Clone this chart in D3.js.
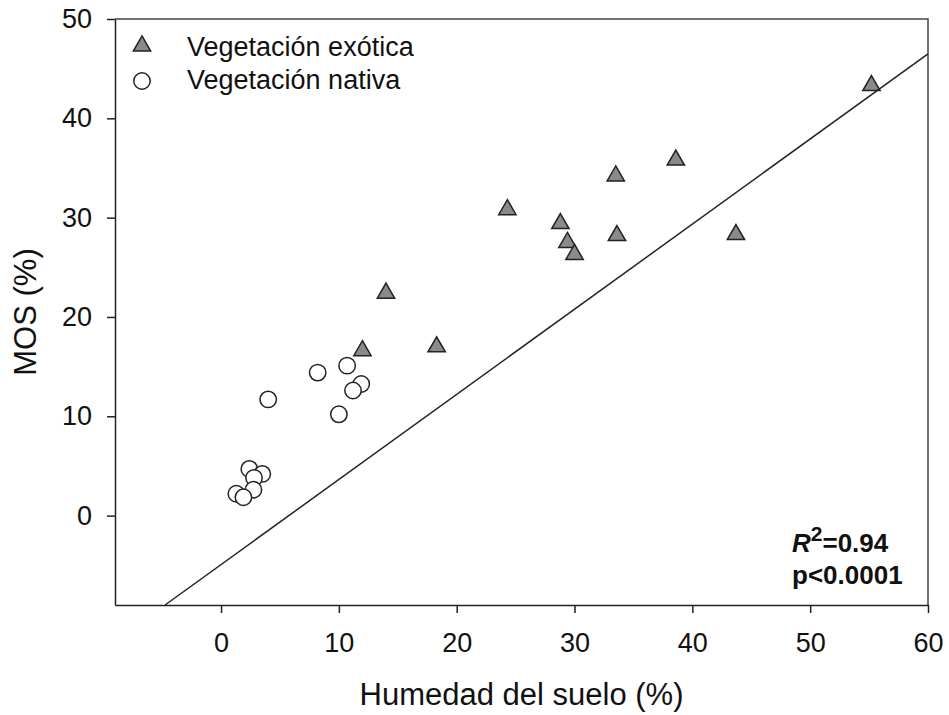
<!DOCTYPE html>
<html>
<head>
<meta charset="utf-8">
<style>
  body { margin: 0; background: #fff; }
  svg { font-family: Arial, "Liberation Sans", sans-serif; }
</style>
<script src="https://cdn.jsdelivr.net/npm/d3@7"></script>
</head>
<body>
<svg id="plot" width="949" height="715"></svg>
<script>
// values
var exoticX = [55.2, 38.6, 33.5, 24.3, 28.8, 29.4, 30.0, 33.6, 43.7, 14.0, 12.0, 18.3];
var exoticY = [43.3, 35.8, 34.2, 30.8, 29.4, 27.5, 26.3, 28.2, 28.3, 22.4, 16.6, 17.0];
var nativeX = [8.2, 10.7, 11.9, 11.2, 10.0, 4.0, 2.4, 3.5, 2.8, 2.75, 1.3, 1.9];
var nativeY = [14.4, 15.1, 13.25, 12.6, 10.2, 11.7, 4.7, 4.2, 3.8, 2.6, 2.2, 1.85];
var xTicks = [0, 10, 20, 30, 40, 50, 60];
var yTicks = [0, 10, 20, 30, 40, 50];
var regSlope = 0.857, regIntercept = -4.93;
var regXRange = [-4.75, 60];
var seriesNames = ["Vegetación exótica", "Vegetación nativa"];

var svg = d3.select("#plot");
var x = d3.scaleLinear().domain([-9, 60]).range([115, 928]);
var y = d3.scaleLinear().domain([-9, 50]).range([605, 19]);
var ink = "#222";

// frame (top + right)
svg.append("path")
  .attr("d", "M" + x.range()[0] + "," + y.range()[1] + "H" + x.range()[1] + "V" + y.range()[0])
  .attr("fill", "none").attr("stroke", "#444").attr("stroke-width", 1.5);

var xAxis = svg.append("g")
  .attr("transform", "translate(0," + y.range()[0] + ")")
  .call(d3.axisBottom(x).tickValues(xTicks).tickSize(8).tickSizeOuter(0).tickPadding(20));
var yAxis = svg.append("g")
  .attr("transform", "translate(" + x.range()[0] + ",0)")
  .call(d3.axisLeft(y).tickValues(yTicks).tickSize(8).tickSizeOuter(0).tickPadding(15));
[xAxis, yAxis].forEach(function (a) {
  a.selectAll("path, line").attr("stroke", ink).attr("stroke-width", 1.5);
  a.selectAll("text").attr("fill", "#111").style("font-size", "27px")
    .style("font-family", "Arial, 'Liberation Sans', sans-serif");
});

svg.append("text")
  .attr("x", (x.range()[0] + x.range()[1]) / 2).attr("y", 705)
  .attr("text-anchor", "middle").style("font-size", "31px").attr("fill", "#111")
  .text("Humedad del suelo (%)");
svg.append("text")
  .attr("transform", "translate(36," + (y.range()[0] + y.range()[1]) / 2 + ") rotate(-90)")
  .attr("text-anchor", "middle").style("font-size", "31px").attr("fill", "#111")
  .text("MOS (%)");

var tri = d3.symbol().type(d3.symbolTriangle).size(130);

// native circles
nativeX.forEach(function (v, i) {
  svg.append("circle")
    .attr("cx", x(v)).attr("cy", y(nativeY[i])).attr("r", 8.2)
    .attr("fill", "#fff").attr("stroke", ink).attr("stroke-width", 1.5);
});
// exotic triangles
exoticX.forEach(function (v, i) {
  svg.append("path")
    .attr("d", tri())
    .attr("transform", "translate(" + x(v) + "," + y(exoticY[i]) + ")")
    .attr("fill", "#8a8a8a").attr("stroke", ink).attr("stroke-width", 1.5);
});

// regression line
svg.append("line")
  .attr("x1", x(regXRange[0])).attr("y1", y(regSlope * regXRange[0] + regIntercept))
  .attr("x2", x(regXRange[1])).attr("y2", y(regSlope * regXRange[1] + regIntercept))
  .attr("stroke", ink).attr("stroke-width", 1.5);

// legend
var lg = svg.append("g");
lg.append("path").attr("d", tri()).attr("transform", "translate(142,46)")
  .attr("fill", "#8a8a8a").attr("stroke", ink).attr("stroke-width", 1.5);
lg.append("circle").attr("cx", 142).attr("cy", 81).attr("r", 8.2)
  .attr("fill", "#fff").attr("stroke", ink).attr("stroke-width", 1.5);
seriesNames.forEach(function (n, i) {
  lg.append("text").attr("x", 187).attr("y", 56 + i * 33)
    .style("font-size", "27px").attr("fill", "#111").text(n);
});

// stats
var st = svg.append("g").style("font-weight", "bold").style("font-size", "26px").attr("fill", "#111");
var t1 = st.append("text").attr("x", 792).attr("y", 552);
t1.append("tspan").style("font-style", "italic").text("R");
t1.append("tspan").attr("dy", -11).style("font-size", "21px").text("2");
t1.append("tspan").attr("dy", 11).text("=0.94");
st.append("text").attr("x", 792).attr("y", 584).text("p<0.0001");
</script>
</body>
</html>
